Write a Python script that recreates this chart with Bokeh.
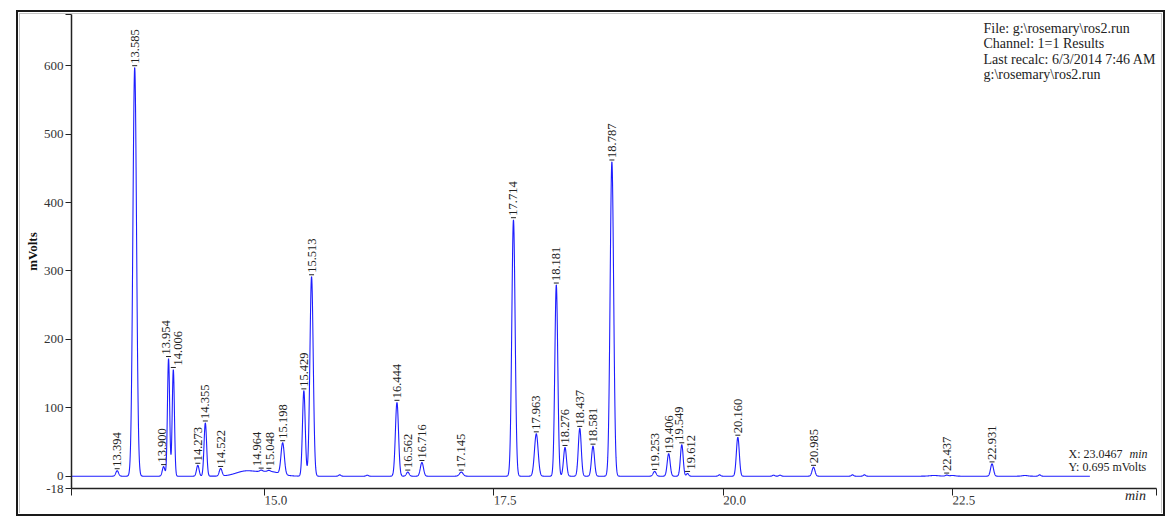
import numpy as np
from bokeh.plotting import figure
from bokeh.models import FixedTicker, Range1d, Label, ColumnDataSource
from bokeh.core.properties import value
from bokeh.embed import file_html
from bokeh.resources import INLINE

# ---------------- data ----------------
peak_times = [13.394, 13.585, 13.900, 13.954, 14.006, 14.273, 14.355, 14.522,
              14.964, 15.048, 15.198, 15.429, 15.513, 16.444, 16.562, 16.716,
              17.145, 17.714, 17.963, 18.181, 18.276, 18.437, 18.581, 18.787,
              19.253, 19.406, 19.549, 19.612, 20.160, 20.985, 22.437, 22.931]
peak_heights = [8, 598, 14, 172, 156, 16, 78, 11,
                2, 1.5, 46, 125, 292, 108, 6, 20,
                6, 375, 62, 280, 42, 70, 44, 460,
                7, 33, 46, 4, 57, 13, 1.5, 18]
peak_sigmas = [0.015, 0.020, 0.014, 0.012, 0.012, 0.014, 0.014, 0.015,
               0.015, 0.015, 0.018, 0.015, 0.018, 0.017, 0.015, 0.017,
               0.020, 0.018, 0.020, 0.016, 0.016, 0.016, 0.016, 0.019,
               0.016, 0.016, 0.015, 0.012, 0.016, 0.016, 0.015, 0.016]

hump_times = [14.80, 15.06]
hump_heights = [7.5, 6.5]
hump_sigmas = [0.11, 0.11]

minor_times = [15.82, 16.12, 19.96, 20.55, 20.62, 21.41, 21.54, 22.30, 22.50, 23.29, 23.45]
minor_heights = [2.0, 1.5, 2.0, 1.5, 1.5, 2.0, 2.0, 1.0, 1.0, 1.0, 2.0]
minor_sigmas = [0.012, 0.012, 0.012, 0.012, 0.012, 0.012, 0.012, 0.05, 0.03, 0.03, 0.012]

trace_start, trace_end = 12.896, 24.0
x_start, x_end = 12.896, 24.724
y_start, y_end = -18, 675

x_tick_values = [15.0, 17.5, 20.0, 22.5]
x_tick_labels = ["15.0", "17.5", "20.0", "22.5"]
y_tick_values = [-18, 0, 100, 200, 300, 400, 500, 600]
y_tick_labels = ["-18", "0", "100", "200", "300", "400", "500", "600"]

info_lines = ["File: g:\\rosemary\\ros2.run",
              "Channel: 1=1 Results",
              "Last recalc: 6/3/2014 7:46 AM",
              "g:\\rosemary\\ros2.run"]
cursor_x = "X: 23.0467"
cursor_x_unit = "min"
cursor_y = "Y: 0.695 mVolts"
x_title = "min"
y_title = "mVolts"

# label nudges (pixels) where the instrument spread crowded labels apart
label_nudge_px = {13.900: -2, 13.954: -3, 14.006: 5, 14.964: -4, 15.048: 1,
                  19.549: -3, 19.612: 3}

# ---------------- build trace from the peak table ----------------
t = np.arange(trace_start, trace_end, 0.002)
sig = np.zeros_like(t)
for c, h, s in zip(peak_times + hump_times + minor_times,
                   peak_heights + hump_heights + minor_heights,
                   peak_sigmas + hump_sigmas + minor_sigmas):
    sig += h * np.exp(-0.5 * ((t - c) / s) ** 2)

FRAME_W, FRAME_H = 1085, 474
apex = np.interp(peak_times, t, sig)
px_per_unit_y = FRAME_H / (y_end - y_start)
px_per_unit_x = FRAME_W / (x_end - x_start)
lab_src = ColumnDataSource(dict(
    x=peak_times,
    y=list(apex + 4.0 / px_per_unit_y),
    ym=list(apex + 2.0 / px_per_unit_y),
    x0=[v - 2.5 / px_per_unit_x for v in peak_times],
    x1=[v + 2.5 / px_per_unit_x for v in peak_times],
    dx=[label_nudge_px.get(v, 0) for v in peak_times],
    text=[f"{v:.3f}" for v in peak_times],
))

SERIF = "Liberation Serif"

p = figure(frame_width=FRAME_W, frame_height=FRAME_H,
           x_range=Range1d(x_start, x_end), y_range=Range1d(y_start, y_end),
           output_backend="svg", toolbar_location=None,
           min_border_left=51, min_border_right=5,
           min_border_top=0, min_border_bottom=18)
p.styles = {"margin-left": "19px", "margin-top": "13px",
            "border-left": "1px solid #c4c4c4",
            "border-top": "1px solid #c4c4c4",
            "border-right": "1px solid #c4c4c4",
            "outline": "2px solid #1a1a1a",
            "outline-offset": "1.5px"}
p.outline_line_color = None
p.grid.visible = False
p.background_fill_color = "white"
p.border_fill_color = "white"

p.line(t, sig, line_color="#1e1eff", line_width=1.1)
p.segment(x0="x0", x1="x1", y0="ym", y1="ym", source=lab_src,
          line_color="#222222", line_width=1)
p.text(x="x", y="y", text="text", source=lab_src, angle=np.pi / 2,
       x_offset="dx",
       text_align="left", text_baseline="middle",
       text_font=value(SERIF), text_font_size="12.5px", text_color="#222222")

# axes
xa = p.xaxis[0]
xa.ticker = FixedTicker(ticks=[x_start] + x_tick_values + [x_end])
ov = {x_start: "", x_end: ""}
ov.update({v: s for v, s in zip(x_tick_values, x_tick_labels)})
xa.major_label_overrides = ov
xa.major_label_orientation = -0.001
xa.major_tick_out = 7
xa.major_tick_in = 0
xa.minor_tick_line_color = None
xa.major_label_standoff = 5
xa.major_label_text_font = SERIF
xa.major_label_text_font_size = "13px"
xa.major_label_text_color = "#333333"
xa.axis_line_color = "#222222"
xa.axis_line_width = 1.5
xa.major_tick_line_color = "#222222"
# right-anchored at the axis end; no-break spaces pull the word just inside it
xa.axis_label = x_title + "\u00a0" * 3
xa.axis_label_align = "end"
xa.axis_label_orientation = 0.001
xa.axis_label_standoff = -16
xa.axis_label_text_font = SERIF
xa.axis_label_text_font_style = "italic"
xa.axis_label_text_font_size = "14px"
xa.axis_label_text_color = "#222222"

ya = p.yaxis[0]
ya.ticker = FixedTicker(ticks=y_tick_values + [y_end])
yov = {v: s for v, s in zip(y_tick_values, y_tick_labels)}
yov[y_end] = ""
ya.major_label_overrides = yov
ya.major_tick_out = 6
ya.major_tick_in = 0
ya.minor_tick_line_color = None
ya.major_label_standoff = 2
ya.major_label_text_font = SERIF
ya.major_label_text_font_size = "13px"
ya.major_label_text_color = "#333333"
ya.axis_line_color = "#222222"
ya.axis_line_width = 1.5
ya.major_tick_line_color = "#222222"
ya.axis_label = y_title
ya.axis_label_text_font = SERIF
ya.axis_label_text_font_style = "bold"
ya.axis_label_text_font_size = "13px"
ya.axis_label_text_color = "#111111"
ya.axis_label_standoff = 1

# texts
for i, line in enumerate(info_lines):
    p.add_layout(Label(x=912, y=460 - 15.3 * i, x_units="screen", y_units="screen",
                       text=line, text_align="left", text_baseline="middle",
                       text_font=SERIF, text_font_size="14px", text_color="#222222"))

p.add_layout(Label(x=997, y=35, x_units="screen", y_units="screen",
                   text=cursor_x, text_align="left", text_baseline="middle",
                   text_font=SERIF, text_font_size="12px", text_color="#222222"))
p.add_layout(Label(x=1076, y=35, x_units="screen", y_units="screen",
                   text=cursor_x_unit, text_align="right", text_baseline="middle",
                   text_font=SERIF, text_font_style="italic",
                   text_font_size="12px", text_color="#222222"))
p.add_layout(Label(x=997, y=22, x_units="screen", y_units="screen",
                   text=cursor_y, text_align="left", text_baseline="middle",
                   text_font=SERIF, text_font_size="12px", text_color="#222222"))

open("out.html", "w").write(file_html(p, INLINE))
